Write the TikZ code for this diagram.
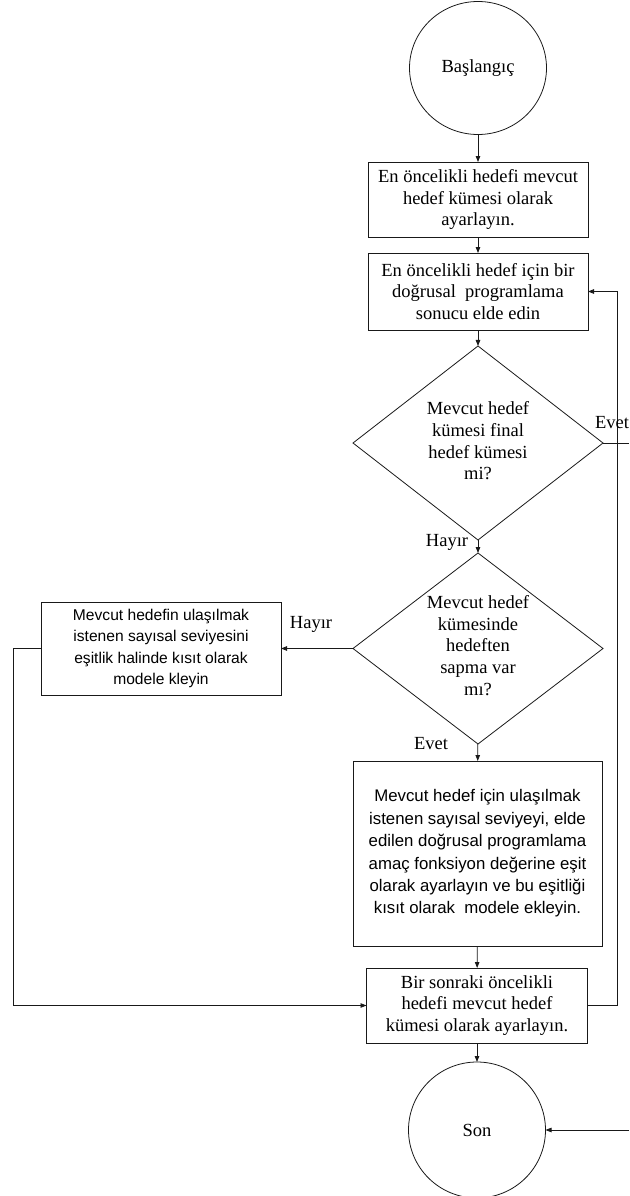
\documentclass[tikz,border=0pt]{standalone}
\usepackage{fontspec}
\setmainfont{Liberation Serif}
\newfontfamily\arialfont{Liberation Sans}
\usetikzlibrary{arrows.meta,shapes.geometric}

\begin{document}
\begin{tikzpicture}[x=1pt,y=-1pt,
  every node/.style={inner sep=0pt, outer sep=0pt},
  line/.style={draw=black!90, line width=0.8pt},
  arr/.style={line, -{Triangle[length=6pt,width=4.5pt]}},
  serif/.style={font=\fontsize{18.5}{21.7}\selectfont, align=center},
  sans/.style={font=\arialfont\fontsize{15.6}{21.5}\selectfont, align=center},
  sansbig/.style={font=\arialfont\fontsize{16.8}{22.4}\selectfont, align=center},
  stepbox/.style={draw=black!90, line width=0.8pt, rectangle},
  endpoint/.style={draw=black!90, line width=0.8pt, ellipse},
  decision/.style={draw=black!90, line width=0.8pt, diamond},
]
\useasboundingbox (0,0) rectangle (629,1196);

% terminals
\node[endpoint, minimum width=137pt, minimum height=133pt] (start) at (478,68) {};
\node[serif] at (start) {Başlangıç};
\node[endpoint, minimum width=137pt, minimum height=136pt] (son) at (477,1130) {};
\node[serif] at (son) {Son};

% process boxes
\node[stepbox, minimum width=220pt, minimum height=75pt] (b1) at (478,199.5) {};
\node[serif] at (b1) {En öncelikli hedefi mevcut\\hedef kümesi olarak\\ayarlayın.};

\node[stepbox, minimum width=220pt, minimum height=77pt] (b2) at (478,291.5) {};
\node[serif] at (b2) {En öncelikli hedef için bir\\doğrusal\ \ programlama\\sonucu elde edin};

\node[stepbox, minimum width=240pt, minimum height=93pt] (lb) at (161,648.5) {};
\node[sans] at (lb) {Mevcut hedefin ulaşılmak\\istenen sayısal seviyesini\\eşitlik halinde kısıt olarak\\modele kleyin};

\node[stepbox, minimum width=249pt, minimum height=185pt] (big) at (477.5,853.5) {};
\node[sansbig] at (big) {Mevcut hedef için ulaşılmak\\istenen sayısal seviyeyi, elde\\edilen doğrusal programlama\\amaç fonksiyon değerine eşit\\olarak ayarlayın ve bu eşitliği\\kısıt olarak\ \ modele ekleyin.};

\node[stepbox, minimum width=221pt, minimum height=75pt] (b3) at (477,1005.5) {};
\node[serif] at (b3) {Bir sonraki öncelikli\\hedefi mevcut hedef\\kümesi olarak ayarlayın.};

% decisions
\node[decision, minimum width=250pt, minimum height=194pt] (d1) at (478,443) {};
\node[serif] at ([yshift=2pt]d1.center) {Mevcut hedef\\kümesi final\\hedef kümesi\\mi?};

\node[decision, minimum width=250pt, minimum height=191pt] (d2) at (478,648.5) {};
\node[serif] at ([yshift=3pt]d2.center) {Mevcut hedef\\kümesinde\\hedeften\\sapma var\\mı?};

% free ends at the right border
\coordinate (evetout) at (629,443);
\coordinate (sonin) at (629,1130);
\coordinate (rail) at (617,291.5);
\coordinate (lrail) at (13,648.5);

% main flow
\draw[arr] (start) -- (b1);
\draw[arr] (b1) -- (b2);
\draw[arr] (b2) -- (d1);
\draw[arr] (d1) -- (d2);
\draw[arr] (d2) -- (lb);
\draw[arr] (d2) -- (big);
\draw[arr] (big) -- (b3);
\draw[arr] (b3) -- (son);

% loops
\draw[arr] (b3.east) -| (rail) -- (b2.east);
\draw[arr] (lb.west) -- (lrail) |- (b3.west);
\draw[line] (d1.east) -- (evetout);
\draw[arr] (sonin) -- (son.east);

% branch labels
\node[serif] at (612,423) {Evet};
\node[serif] at (447,542) {Hayır};
\node[serif] at (311,624) {Hayır};
\node[serif] at (431,744) {Evet};
\end{tikzpicture}
\end{document}
